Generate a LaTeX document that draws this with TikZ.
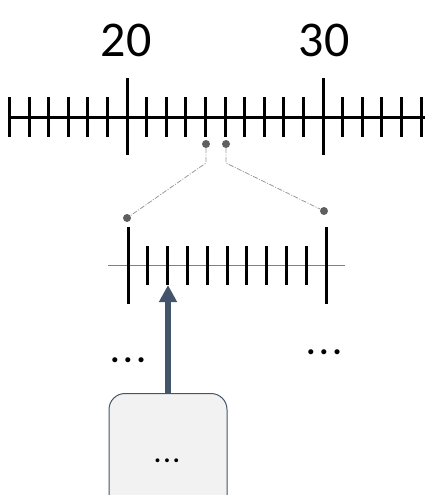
\documentclass[tikz,border=0pt]{standalone}
\usepackage{fontspec}
\setmainfont{Carlito}
\usetikzlibrary{arrows.meta}
\definecolor{slate}{HTML}{44546A}
\definecolor{dotgray}{HTML}{5F5F5F}
\definecolor{boxfill}{HTML}{F2F2F2}
\newcommand{\spdots}[1]{.\kern#1.\kern#1.}
\begin{document}
\begin{tikzpicture}[x=1pt,y=-1pt,
  bigtick/.style={line width=3pt,black},
  smalltick/.style={line width=3pt,black},
  pin/.style={circle,fill=dotgray,inner sep=0pt,minimum size=8pt},
  guide/.style={draw=gray!80,line width=0.8pt,dash pattern=on 5pt off 1.5pt on 1pt off 1.5pt},
  numlabel/.style={font=\fontsize{50}{54}\selectfont},
  dots/.style={font=\bfseries\fontsize{34}{36}\selectfont}]
\useasboundingbox (0,0) rectangle (425,495);
\clip (0,0) rectangle (425,495);
% top ruler
\draw[line width=3pt] (10,117) -- (425,117);
\foreach \i in {-6,...,15} {
  \pgfmathsetmacro{\xx}{127+19.6*\i}
  \draw[smalltick] (\xx,97) -- (\xx,137);
}
\draw[bigtick] (127,78) -- (127,155);
\draw[bigtick] (323,78) -- (323,155);
\node[numlabel] (n20) at (126,40) {20};
\node[numlabel] (n30) at (324,40) {30};
% pins
\node[pin] (p1) at (206,144) {};
\node[pin] (p2) at (226,144) {};
\node[pin] (q1) at (127,218) {};
\node[pin] (q2) at (324,211) {};
\coordinate (b1) at (206,163);
\coordinate (b2) at (226,163);
\draw[guide] (p1) -- (b1) -- (q1);
\draw[guide] (p2) -- (b2) -- (q2);
% lower ruler
\draw[gray,line width=1pt] (108,265) -- (345,265);
\draw[bigtick] (128,227) -- (128,304);
\draw[bigtick] (326,227) -- (326,304);
\foreach \i in {1,...,9} {
  \pgfmathsetmacro{\xx}{128+19.8*\i}
  \draw[smalltick] (\xx,246) -- (\xx,285);
}
\coordinate (tip) at (168,285);
% box
\node[draw=slate,fill=boxfill,line width=1pt,rounded corners=16pt,minimum width=118pt,minimum height=120pt,anchor=north] (box) at (168,393) {};
\node[font=\bfseries\fontsize{26}{28}\selectfont] (boxtext) at (167,461) {\spdots{2.5pt}};
\draw[slate,line width=6pt,-{Triangle[width=17pt,length=17pt]}] (box.north) -- (tip);
\node[dots] (d1) at (128,360) {\spdots{4pt}};
\node[dots] (d2) at (324,352) {\spdots{4pt}};
\end{tikzpicture}
\end{document}
